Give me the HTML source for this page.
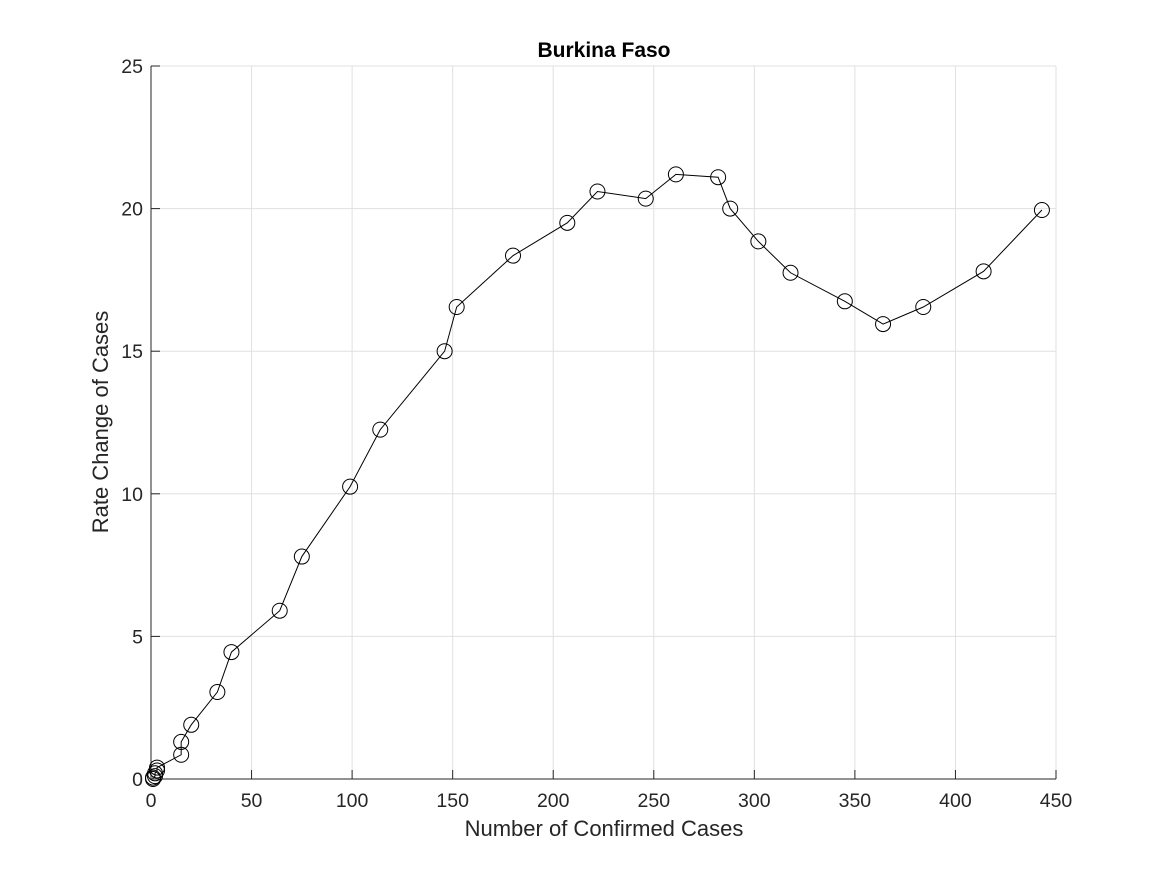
<!DOCTYPE html>
<html><head><meta charset="utf-8"><style>
body{margin:0;background:#fff;}
svg{display:block;font-family:"Liberation Sans",sans-serif;}
</style></head><body>
<svg id="chart" width="1167" height="875" viewBox="0 0 1167 875">
<rect x="0" y="0" width="1167" height="875" fill="#fff"/>
<g id="grid"></g>
<g id="axes"></g>
<g id="series"></g>
<text x="604" y="57" text-anchor="middle" font-size="21" font-weight="bold">Burkina Faso</text>
<text x="604" y="836" text-anchor="middle" font-size="22" fill="#262626">Number of Confirmed Cases</text>
<text transform="translate(108,422) rotate(-90)" text-anchor="middle" font-size="22" fill="#262626">Rate Change of Cases</text>
</svg>
<script>
const xVals=[1,1,2,2,3,3,15,15,20,33,40,64,75,99,114,146,152,180,207,222,246,261,282,288,302,318,345,364,384,414,443];
const yVals=[0,0.05,0.1,0.2,0.3,0.4,0.85,1.3,1.9,3.05,4.45,5.9,7.8,10.25,12.25,15,16.55,18.35,19.5,20.6,20.35,21.2,21.1,20,18.85,17.75,16.75,15.95,16.55,17.8,19.95];
const xTicks=[0,50,100,150,200,250,300,350,400,450];
const yTicks=[0,5,10,15,20,25];
const X0=151,X1=1056,Y0=779,Y1=66;
const sx=v=>X0+(v-0)/(450-0)*(X1-X0);
const sy=v=>Y0-(v-0)/(25-0)*(Y0-Y1);
const NS="http://www.w3.org/2000/svg";
function mk(t,a,p){const e=document.createElementNS(NS,t);for(const k in a)e.setAttribute(k,a[k]);p.appendChild(e);return e;}
const grid=document.getElementById('grid'),axes=document.getElementById('axes'),ser=document.getElementById('series');
xTicks.forEach(t=>{
 const g=mk('line',{x1:sx(t),x2:sx(t),y1:Y0,y2:Y1,stroke:'#e0e0e0','stroke-width':1},grid);
 
 
 const tk=mk('line',{x1:sx(t),x2:sx(t),y1:Y0,y2:Y0-9,stroke:'#262626','stroke-width':1},axes);
 
 
 const l=mk('text',{x:sx(t),y:Y0+28,'text-anchor':'middle','font-size':19.5,fill:'#262626'},axes);
 l.textContent=t;
 
 
});
yTicks.forEach(t=>{
 const g=mk('line',{x1:X0,x2:X1,y1:sy(t),y2:sy(t),stroke:'#e0e0e0','stroke-width':1},grid);
 
 
 const tk=mk('line',{x1:X0,x2:X0+9,y1:sy(t),y2:sy(t),stroke:'#262626','stroke-width':1},axes);
 
 
 const l=mk('text',{x:X0-8,y:sy(t)+7,'text-anchor':'end','font-size':19.5,fill:'#262626'},axes);
 l.textContent=t;
 
 
});
const xa=mk('line',{x1:X0,x2:X1,y1:Y0,y2:Y0,stroke:'#262626','stroke-width':1},axes);


const ya=mk('line',{x1:X0,x2:X0,y1:Y0,y2:Y1,stroke:'#262626','stroke-width':1},axes);


const pl=mk('polyline',{points:xVals.map((x,i)=>sx(x)+','+sy(yVals[i])).join(' '),fill:'none',stroke:'#000','stroke-width':1},ser);


xVals.forEach((x,i)=>{
 const c=mk('circle',{cx:sx(x),cy:sy(yVals[i]),r:7.5,fill:'none',stroke:'#000','stroke-width':1},ser);
 
 
});
</script>
</body></html>
